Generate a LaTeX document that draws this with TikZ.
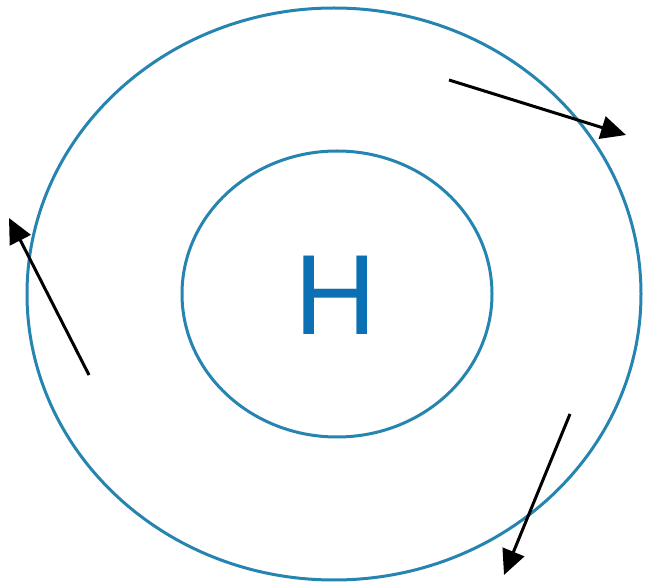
\documentclass[tikz,border=0pt]{standalone}
\usepackage{fontspec}
\setmainfont{Liberation Sans}
\usetikzlibrary{arrows.meta,shapes.geometric}
\definecolor{ringblue}{RGB}{38,132,176}
\definecolor{hblue}{RGB}{12,112,180}
\tikzset{
  ring/.style={draw=ringblue, line width=3pt, ellipse, inner sep=0pt},
  flow/.style={draw=black, line width=3pt, -{Triangle[length=25pt,width=23pt]}}
}
\begin{document}
\begin{tikzpicture}[x=1pt,y=-1pt]
\useasboundingbox (0,0) rectangle (646,585);
\node[ring, minimum width=614pt, minimum height=572pt] (outer) at (334,294) {};
\node[ring, minimum width=310pt, minimum height=286pt] (inner) at (337,294) {};
\node[text=hblue, inner sep=0pt] (h) at (336,295) {\fontsize{114}{114}\selectfont H};
\coordinate (a1s) at (449,80);
\coordinate (a1e) at (626,135);
\coordinate (a2s) at (89,375);
\coordinate (a2e) at (9,218);
\coordinate (a3s) at (570,414);
\coordinate (a3e) at (504,575);
\draw[flow] (a1s) -- (a1e);
\draw[flow] (a2s) -- (a2e);
\draw[flow] (a3s) -- (a3e);
\end{tikzpicture}
\end{document}
